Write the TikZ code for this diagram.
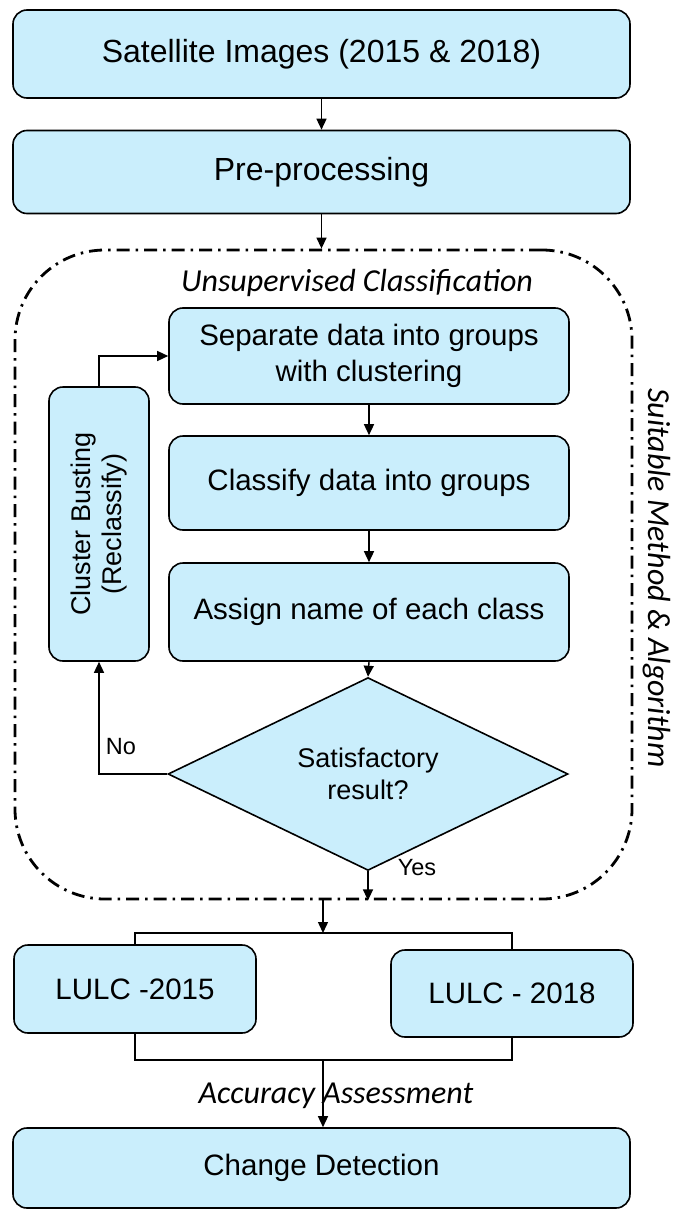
\documentclass[tikz,border=0pt]{standalone}
\usepackage{fontspec}
\setmainfont{Liberation Sans}
\newfontfamily\itfont{Carlito}
\usetikzlibrary{shapes.geometric,arrows.meta}
\definecolor{boxfill}{RGB}{202,238,252}
\begin{document}
\begin{tikzpicture}[x=1pt,y=-1pt,
  box/.style={draw, line width=1.6pt, fill=boxfill, rounded corners=14pt, align=center, inner sep=0pt, font=\fontsize{29.5}{36}\selectfont},
  bigbox/.style={box, font=\fontsize{32}{36}\selectfont},
  arr/.style={line width=1.4pt, -{Triangle[length=11pt,width=10pt]}},
  ln/.style={line width=1.4pt},
  frame/.style={draw, line width=2.8pt, dash pattern=on 13pt off 6pt on 2.5pt off 6pt, rounded corners=90pt, inner sep=0pt},
  lbl/.style={font=\fontsize{23.5}{26}\selectfont, inner sep=0pt},
  itlbl/.style={font=\itfont\itshape\fontsize{32}{36}\selectfont, inner sep=0pt}]
\useasboundingbox (0,0) rectangle (678,1212);
% frame
\node[frame, minimum width=617pt, minimum height=649pt] (frame) at (323.5,574.5) {};
% top boxes
\node[bigbox, minimum width=617pt, minimum height=88pt] (sat) at (321.5,54) {Satellite Images (2015 \& 2018)};
\node[bigbox, minimum width=617pt, minimum height=83pt] (pre) at (321.5,172) {Pre-processing};
\node[itlbl] (unsup) at (357,283) {Unsupervised Classification};
\node[itlbl, rotate=-90] (suit) at (657,578) {Suitable Method \& Algorithm};
% inner boxes
\node[box, minimum width=400pt, minimum height=96pt] (sep) at (369,356) {Separate data into groups\\with clustering};
\node[box, minimum width=400pt, minimum height=94pt] (cls) at (369,483) {Classify data into groups};
\node[box, minimum width=400pt, minimum height=98pt] (asg) at (369,612) {Assign name of each class};
\node[draw, line width=1.6pt, fill=boxfill, diamond, minimum width=400pt, minimum height=162pt, inner sep=0pt, align=center, font=\fontsize{27}{32}\selectfont] (dia) at (368,774) {Satisfactory\\result?};
\node[box, rotate=90, minimum width=274pt, minimum height=100pt, font=\fontsize{27}{31}\selectfont] (clu) at (99,524) {Cluster Busting\\(Reclassify)};
% bottom boxes
\node[box, minimum width=242pt, minimum height=88pt] (l15) at (135,989) {LULC -2015};
\node[box, minimum width=242pt, minimum height=87pt] (l18) at (512,993.5) {LULC - 2018};
\node[box, minimum width=617pt, minimum height=80pt] (chg) at (321.5,1168) {Change Detection};
\coordinate (bt) at (323,933);
\coordinate (bb) at (323,1060);
% connectors
\draw[arr] (sat) -- (pre);
\draw[arr] (pre.south) -- (pre.south |- frame.north);
\draw[arr] (sep) -- (cls);
\draw[arr] (cls) -- (asg);
\draw[arr] (asg.south) -- (dia.north);
\draw[arr] (dia.west) -| (clu.west);
\draw[arr] (clu.east) |- (sep.west);
\draw[arr] (dia.south) -- (dia.south |- frame.south);
\node[lbl] (no) at (121,747) {No};
\node[lbl] (yes) at (417,868) {Yes};
\draw[arr] (frame.south -| bt) -- (bt);
\draw[ln] (l15.north) -- (l15.north |- bt) -- (l18.north |- bt) -- (l18.north);
\draw[ln] (l15.south) -- (l15.south |- bb) -- (l18.south |- bb) -- (l18.south);
\draw[arr] (bb) -- (bb |- chg.north);
\node[itlbl] (acc) at (336,1096) {Accuracy Assessment};
\end{tikzpicture}
\end{document}
